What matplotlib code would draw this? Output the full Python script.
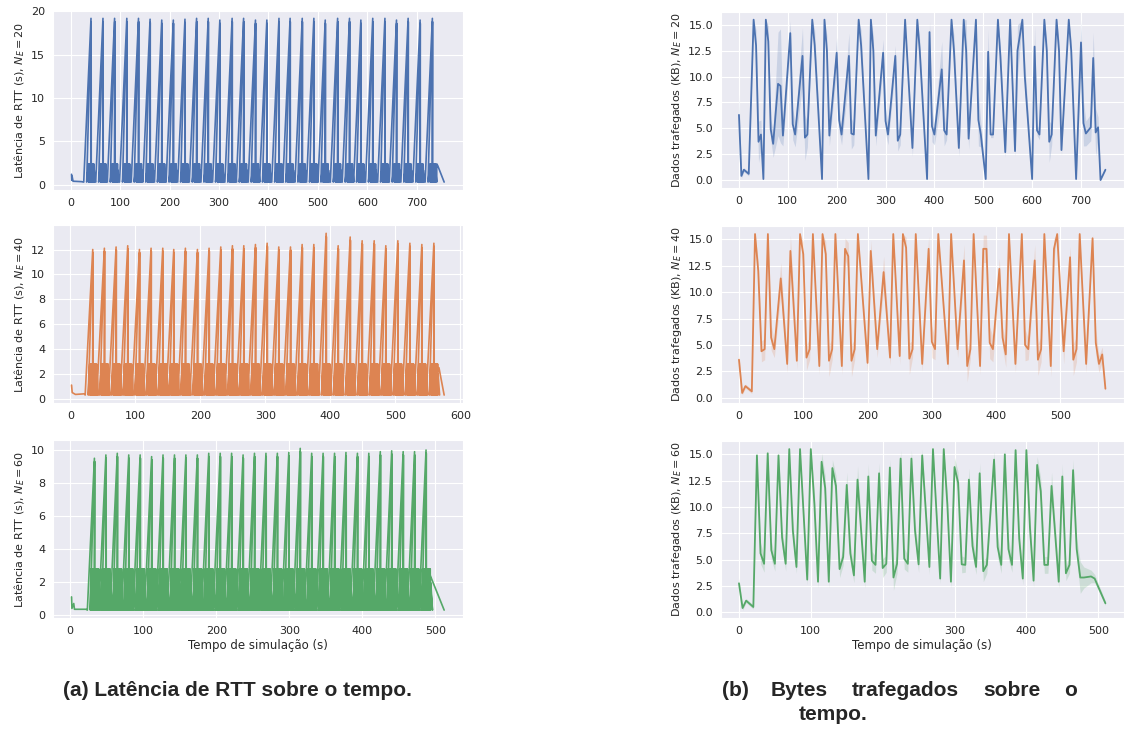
import numpy as np
import matplotlib
matplotlib.use('Agg')
import matplotlib.pyplot as plt
import seaborn as sns

sns.set_style("darkgrid")
plt.rcParams['font.family'] = ['DejaVu Sans']

COLORS = ['#4C72B0', '#DD8452', '#55A868']

# ---------------- RTT latency (left column) ----------------
# peak times (s) and peak heights (s) of every sawtooth
rtt20_peaks = [41.6, 65.8, 89.3, 114, 137.6, 161, 184.6, 208, 231.5, 255, 278.5, 302,
               326.8, 350, 374, 397, 421.5, 444, 468.5, 492, 515, 540, 564, 587, 611,
               635.6, 659, 682.5, 706.7, 731.5]
rtt20_heights = [19.2, 19.2, 19.2, 19.2, 19.2, 19.1, 19.0, 19.0, 19.1, 19.2, 19.2, 19.0,
                 19.2, 19.2, 19.0, 19.0, 19.2, 19.2, 19.2, 19.2, 19.0, 19.2, 19.2, 19.0,
                 19.2, 19.2, 19.0, 19.2, 19.0, 19.2]
rtt20_head_t = [2, 2.5, 3, 5, 22]
rtt20_head_v = [1.2, 0.5, 1.0, 0.4, 0.35]
rtt20_tail_t = [740, 742, 755]
rtt20_tail_v = [2.4, 2.2, 0.3]

rtt40_peaks = [34.9, 52.8, 70.8, 88.7, 106.7, 124.6, 142.6, 159.5, 177.4, 195.9, 213.8,
               231.8, 249.7, 267.2, 285.1, 303.1, 321, 339, 356.9, 374.9, 393.8, 412.3,
               430.8, 449.2, 467.7, 485.6, 504.1, 522.6, 541, 559.5]
rtt40_heights = [12.0, 12.1, 12.2, 12.3, 12.0, 12.1, 12.1, 12.0, 12.1, 12.0, 12.1, 12.2,
                 12.3, 12.3, 12.4, 12.5, 12.2, 12.2, 12.4, 12.4, 13.3, 12.3, 13.0, 12.7,
                 12.7, 12.3, 12.7, 12.5, 12.4, 12.5]
rtt40_head_t = [2, 3, 8, 22]
rtt40_head_v = [1.1, 0.5, 0.35, 0.4]
rtt40_tail_t = [562, 567, 575]
rtt40_tail_v = [1.9, 2.5, 0.3]

rtt60_peaks = [33.6, 49.3, 64.9, 80.6, 96.2, 111.9, 127.5, 143.2, 158.8, 174.5, 190.1,
               205.8, 221.4, 237.1, 252.7, 268.4, 284, 299.7, 315.3, 331, 346.6, 362.3,
               377.9, 393.6, 409.2, 424.9, 440.5, 456.2, 471.8, 487.5]
rtt60_heights = [9.5, 9.7, 9.8, 9.7, 9.7, 9.6, 9.7, 9.7, 9.7, 9.7, 9.8, 9.8, 9.8, 9.7,
                 9.8, 9.8, 9.8, 9.85, 10.1, 9.8, 9.8, 9.8, 9.85, 9.8, 9.8, 9.9, 9.95,
                 9.9, 9.9, 10.0]
rtt60_head_t = [2, 2.5, 5, 6, 22]
rtt60_head_v = [1.1, 0.4, 0.7, 0.35, 0.35]
rtt60_tail_t = [492, 512]
rtt60_tail_v = [2.5, 0.3]

# how long each ramp climbs before its peak (s), per panel
rtt_ramp = [15, 12, 10]
rtt_floor = [0.3, 0.3, 0.3]
rtt_cluster = [2.4, 2.8, 2.8]

# shape of one tooth: offset from the peak (s, 'r' = ramp
# start), kind of point ('l' = floor, 'p' = fraction of the peak,
# 'c' = fraction of the low cluster top)
tooth_dt = ['r', -0.3, 'r2', -5, -4.6, -4.2, -3.8, -3.4, -3.0, -2.6, -2.2, -1.8, -1.4,
            -1.0, -0.6, 0.0, 0.2, 0.6, 1.0, 1.4, 1.8, 2.2, 2.6, 3.0, 3.4, 3.8, 4.2,
            4.6, 5.0, 5.4, 5.8, 6.2, 8.5]
tooth_kind = ['l', 'p', 'l', 'c', 'l', 'c', 'l', 'c', 'l', 'c', 'l', 'c', 'l', 'c', 'l',
              'p', 'l', 'c', 'l', 'c', 'l', 'c', 'l', 'c', 'l', 'c', 'l', 'c', 'l', 'c',
              'l', 'c', 'l']
tooth_f = [1, 1.0, 1, 1.0, 1, 0.8, 1, 1.0, 1, 0.6, 1, 1.0, 1, 0.9, 1, 0.98, 1, 1.0, 1,
           0.7, 1, 1.0, 1, 0.85, 1, 1.0, 1, 0.6, 1, 1.0, 1, 0.7, 1]

# ---------------- transferred bytes (right column) ----------------
b20_t = [0, 5, 10, 20, 30, 35, 40, 45, 50, 55, 60, 65, 70, 80, 85, 90, 105, 110, 115,
         130, 135, 140, 150, 155, 170, 175, 180, 185, 200, 205, 210, 225, 230, 235, 245,
         250, 265, 270, 275, 280, 295, 300, 305, 320, 325, 330, 340, 355, 365, 370, 385,
         390, 395, 400, 415, 420, 425, 435, 440, 450, 460, 465, 470, 485, 490, 495, 505,
         510, 515, 520, 530, 535, 545, 555, 565, 570, 580, 585, 600, 605, 610, 615, 625,
         630, 635, 640, 650, 655, 660, 675, 680, 690, 700, 705, 710, 720, 725, 730, 735,
         740, 750]
b20_v = [6.3, 0.4, 1.0, 0.6, 15.5, 13.0, 3.7, 4.4, 0.1, 15.5, 13.4, 4.9, 3.5, 9.3, 9.1,
         4.3, 14.2, 5.4, 4.4, 12.0, 4.1, 4.4, 15.5, 13.0, 0.1, 15.5, 12.5, 4.3, 12.3, 5.8,
         4.4, 12.0, 4.5, 4.4, 15.5, 13.0, 0.1, 15.5, 12.5, 4.3, 12.3, 5.7, 4.4, 12.0, 3.8,
         4.4, 15.5, 3.1, 15.5, 12.5, 0.1, 14.3, 5.2, 4.4, 10.7, 4.8, 4.4, 15.5, 12.5, 3.1,
         15.5, 12.5, 4.0, 15.5, 5.8, 4.4, 0.1, 12.4, 4.4, 4.4, 15.5, 12.0, 2.7, 15.5, 2.8,
         12.5, 15.5, 10.0, 0.1, 12.9, 4.8, 4.4, 15.5, 12.5, 3.7, 4.4, 15.5, 12.5, 2.9,
         15.5, 12.5, 0.1, 13.3, 5.5, 4.5, 5.1, 11.8, 4.6, 5.1, 0.0, 1.0]
b20_err = [2.0, 0.2, 0.2, 0.2, 0.2, 1.5, 2.0, 1.4, 0.2, 0.2, 1.5, 1.0, 1.3, 5.0, 5.5,
           1.0, 1.2, 1.5, 1.2, 2.7, 2.2, 1.2, 0.2, 1.5, 0.2, 0.2, 1.5, 1.0, 1.5, 1.2, 1.0,
           2.2, 1.5, 1.0, 0.2, 1.5, 0.2, 0.2, 1.5, 1.0, 1.3, 1.2, 1.0, 1.0, 1.0, 1.0, 0.2,
           0.8, 0.2, 1.0, 0.2, 1.0, 1.5, 1.0, 2.7, 1.5, 0.5, 0.2, 1.5, 0.8, 0.2, 3.0, 1.0,
           0.2, 2.5, 1.2, 0.2, 2.2, 0.3, 0.3, 0.2, 1.0, 0.5, 0.2, 0.5, 2.5, 0.2, 1.5, 0.2,
           2.0, 0.5, 0.5, 0.2, 1.0, 2.0, 1.0, 0.2, 1.0, 0.5, 0.2, 1.0, 0.2, 2.2, 2.2, 1.2,
           1.3, 2.5, 2.3, 1.0, 0.1, 0.1]

b40_t = [0, 5, 10, 20, 25, 30, 35, 40, 45, 50, 55, 65, 75, 80, 90, 95, 100, 105, 110,
         115, 125, 130, 135, 140, 145, 150, 160, 165, 170, 175, 180, 185, 200, 205, 215,
         225, 235, 240, 250, 255, 260, 265, 270, 275, 285, 295, 300, 305, 310, 325, 330,
         340, 350, 355, 360, 365, 375, 380, 385, 390, 395, 405, 410, 415, 420, 430, 440,
         445, 450, 460, 465, 470, 475, 485, 490, 495, 505, 515, 520, 525, 530, 540, 550,
         555, 560, 565, 570]
b40_v = [3.6, 0.45, 1.1, 0.6, 15.5, 12.0, 4.4, 4.6, 15.5, 5.7, 4.6, 11.3, 3.2, 13.9, 3.5,
         15.5, 13.6, 3.8, 4.6, 15.5, 3.0, 15.5, 13.6, 3.5, 4.6, 15.5, 3.0, 14.1, 13.4, 3.5,
         4.6, 15.5, 3.3, 13.9, 4.6, 11.9, 3.8, 15.5, 3.95, 15.5, 14.2, 3.7, 4.6, 15.5, 3.2,
         14.1, 5.3, 4.6, 15.5, 3.2, 15.5, 4.6, 13.0, 3.0, 4.6, 15.5, 3.0, 14.1, 14.1, 5.2,
         4.6, 12.2, 5.7, 4.1, 15.5, 3.2, 15.5, 5.0, 4.6, 13.0, 3.6, 4.6, 15.5, 3.0, 14.1,
         15.5, 4.4, 13.3, 3.6, 4.6, 15.5, 3.2, 15.1, 5.2, 3.2, 4.1, 0.85]
b40_err = [0.7, 0.2, 0.2, 0.2, 0.2, 1.0, 1.0, 1.0, 0.2, 1.2, 0.8, 1.5, 0.8, 1.5, 0.8,
           0.2, 1.2, 1.2, 1.0, 0.2, 0.8, 0.2, 1.2, 1.5, 1.0, 0.2, 0.8, 1.0, 1.3, 1.5, 1.0,
           0.2, 0.9, 1.0, 0.8, 1.5, 0.7, 0.2, 0.8, 0.2, 1.0, 1.5, 0.8, 0.2, 0.7, 1.2, 1.5,
           1.0, 0.2, 0.6, 0.2, 0.8, 1.5, 1.5, 0.9, 0.2, 0.8, 1.3, 1.3, 1.5, 1.2, 1.0, 1.0,
           1.2, 0.2, 0.8, 0.2, 1.5, 1.0, 1.5, 1.5, 1.2, 0.2, 1.0, 1.0, 0.2, 1.2, 1.0, 1.5,
           1.2, 0.2, 0.8, 0.5, 1.2, 0.8, 0.7, 0.2]

b60_t = [0, 5, 10, 20, 25, 30, 35, 40, 45, 50, 55, 60, 65, 70, 75, 80, 85, 95, 100, 105,
         110, 115, 120, 125, 130, 135, 140, 145, 150, 155, 160, 165, 175, 180, 185, 190,
         195, 200, 205, 210, 215, 220, 225, 230, 235, 240, 245, 250, 255, 265, 270, 280,
         285, 290, 295, 300, 305, 310, 315, 320, 325, 330, 335, 340, 345, 355, 360, 365,
         370, 375, 380, 385, 390, 395, 400, 405, 410, 415, 420, 425, 430, 435, 440, 445,
         450, 455, 460, 465, 470, 475, 480, 490, 495, 510]
b60_v = [2.75, 0.4, 1.1, 0.5, 14.9, 5.6, 4.6, 15.1, 5.9, 4.6, 14.9, 7.1, 4.6, 15.5, 7.75,
         4.3, 15.5, 3.1, 15.5, 10.25, 2.9, 14.3, 11.8, 2.9, 13.7, 12.0, 4.1, 5.25, 12.1,
         5.6, 3.5, 12.6, 2.9, 12.9, 4.9, 4.5, 13.2, 4.2, 4.6, 13.75, 3.3, 4.6, 14.6, 5.1,
         4.6, 14.6, 7.75, 4.55, 14.9, 4.3, 15.5, 3.2, 15.5, 10.25, 2.9, 13.8, 12.3, 4.55,
         4.5, 12.6, 6.3, 4.3, 13.2, 3.9, 4.5, 14.5, 6.2, 4.5, 15.0, 6.0, 4.5, 15.4, 7.0,
         3.2, 15.4, 8.0, 3.0, 14.0, 11.5, 4.5, 4.5, 12.0, 7.5, 2.9, 12.9, 3.7, 4.5, 13.5,
         6.0, 3.3, 3.3, 3.4, 3.2, 0.85]
b60_err = [0.5, 0.2, 0.2, 0.2, 0.5, 1.0, 0.8, 0.4, 0.9, 0.7, 0.5, 1.0, 0.7, 0.2, 1.0,
           0.6, 0.2, 0.5, 0.2, 1.2, 0.6, 0.8, 1.2, 0.6, 0.8, 1.0, 0.8, 0.8, 1.2, 0.9, 0.7,
           1.3, 0.6, 1.2, 0.9, 0.8, 1.0, 0.9, 0.8, 0.8, 1.2, 0.9, 0.8, 1.0, 0.8, 0.8, 1.0,
           0.8, 0.6, 0.7, 0.2, 0.5, 0.2, 1.2, 0.6, 0.9, 1.0, 0.8, 0.7, 1.1, 1.0, 0.7, 1.0,
           1.0, 0.8, 0.8, 1.0, 0.8, 0.6, 1.0, 0.7, 0.3, 1.0, 0.6, 0.3, 1.0, 0.6, 0.8, 1.2,
           0.8, 0.8, 1.3, 1.0, 0.6, 1.2, 0.7, 0.8, 1.0, 1.0, 1.5, 1.0, 0.6, 0.4, 0.2]


def build_rtt(head_t, head_v, peaks, heights, ramp, floor, top, tail_t, tail_v):
    t = list(head_t)
    v = list(head_v)
    for p, h in zip(peaks, heights):
        for d, k, f in zip(tooth_dt, tooth_kind, tooth_f):
            if d == 'r':
                d = -ramp
            elif d == 'r2':
                d = -0.6 * ramp
            t.append(p + d)
            if k == 'l':
                v.append(floor)
            elif k == 'p':
                v.append(h * f)
            else:
                v.append(top * f)
    return t + list(tail_t), v + list(tail_v)


rtt_series = [
    build_rtt(rtt20_head_t, rtt20_head_v, rtt20_peaks, rtt20_heights, rtt_ramp[0],
              rtt_floor[0], rtt_cluster[0], rtt20_tail_t, rtt20_tail_v),
    build_rtt(rtt40_head_t, rtt40_head_v, rtt40_peaks, rtt40_heights, rtt_ramp[1],
              rtt_floor[1], rtt_cluster[1], rtt40_tail_t, rtt40_tail_v),
    build_rtt(rtt60_head_t, rtt60_head_v, rtt60_peaks, rtt60_heights, rtt_ramp[2],
              rtt_floor[2], rtt_cluster[2], rtt60_tail_t, rtt60_tail_v),
]
bytes_series = [(b20_t, b20_v, b20_err), (b40_t, b40_v, b40_err), (b60_t, b60_v, b60_err)]
n_values = [20, 40, 60]

fig = plt.figure(figsize=(11.26, 7.29), dpi=100)

left_boxes = [(0.047, 0.739, 0.364, 0.247), (0.047, 0.447, 0.364, 0.244),
              (0.047, 0.152, 0.364, 0.244)]
right_boxes = [(0.640, 0.742, 0.358, 0.242), (0.640, 0.447, 0.358, 0.243),
               (0.640, 0.152, 0.358, 0.243)]

rtt_yticks = [[0, 5, 10, 15, 20], [0, 2, 4, 6, 8, 10, 12], [0, 2, 4, 6, 8, 10]]
rtt_xticks = [range(0, 701, 100), range(0, 601, 100), range(0, 501, 100)]
bytes_xticks = [range(0, 701, 100), range(0, 501, 100), range(0, 501, 100)]

for i in range(3):
    ax = fig.add_axes(left_boxes[i])
    t, v = rtt_series[i]
    ax.plot(t, v, color=COLORS[i], lw=1.2)
    ax.set_yticks(rtt_yticks[i])
    ax.set_xticks(list(rtt_xticks[i]))
    ax.tick_params(labelsize=8, pad=2)
    ax.set_ylabel(f'Latência de RTT (s), $N_E = {n_values[i]}$', fontsize=8, labelpad=3)
    if i == 2:
        ax.set_xlabel('Tempo de simulação (s)', fontsize=8.5, labelpad=2)

    ax = fig.add_axes(right_boxes[i])
    t, v, e = bytes_series[i]
    t = np.array(t)
    v = np.array(v)
    e = np.array(e)
    ax.fill_between(t, np.clip(v - e, 0, None), np.clip(v + e, None, 15.5),
                    color=COLORS[i], alpha=0.2, lw=0)
    ax.plot(t, v, color=COLORS[i], lw=1.3)
    ax.set_yticks([0, 2.5, 5, 7.5, 10, 12.5, 15])
    ax.set_yticklabels(['0.0', '2.5', '5.0', '7.5', '10.0', '12.5', '15.0'])
    ax.set_xticks(list(bytes_xticks[i]))
    ax.tick_params(labelsize=8, pad=2)
    ax.set_ylabel(f'Dados trafegados (KB), $N_E = {n_values[i]}$', fontsize=8, labelpad=3)
    if i == 2:
        ax.set_xlabel('Tempo de simulação (s)', fontsize=8.5, labelpad=2)

cap = dict(fontsize=15, fontweight='bold', family='Liberation Sans', va='center')
fig.text(63 / 1126, 1 - 690 / 729, '(a) Latência de RTT sobre o tempo.', ha='left', **cap)
words = ['(b)', 'Bytes', 'trafegados', 'sobre', 'o']
word_x = [722, 771, 852, 983, 1064]
for w, x in zip(words, word_x):
    fig.text(x / 1126, 1 - 690 / 729, w, ha='left', **cap)
fig.text(799 / 1126, 1 - 715 / 729, 'tempo.', ha='left', **cap)

fig.savefig('out.png', dpi=100)
